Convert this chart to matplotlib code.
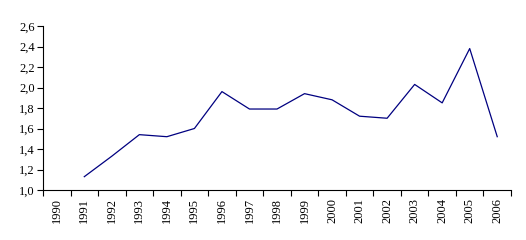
import numpy as np
import matplotlib.pyplot as plt
from matplotlib.ticker import FixedLocator, FuncFormatter

years = [str(y) for y in range(1990, 2007)]
values = [np.nan, 1.13, 1.33, 1.54, 1.52, 1.60, 1.96, 1.79, 1.79,
          1.94, 1.88, 1.72, 1.70, 2.03, 1.85, 2.38, 1.52]
yticks = [1.0, 1.2, 1.4, 1.6, 1.8, 2.0, 2.2, 2.4, 2.6]

plt.rcParams['font.family'] = ['Liberation Serif', 'DejaVu Serif']

fig = plt.figure(figsize=(5.26, 2.4), dpi=100)
ax = fig.add_axes([43/526, 50/240, 468/526, 164/240])

x = np.arange(len(years))
ax.plot(x, values, color='#000080', linewidth=0.9)

ax.set_xlim(-0.5, len(years) - 0.5)
ax.set_ylim(1.0, 2.6)
ax.set_yticks(yticks)
ax.yaxis.set_major_formatter(FuncFormatter(lambda v, p: f'{v:.1f}'.replace('.', ',')))

ax.xaxis.set_major_locator(FixedLocator(np.arange(-0.5, len(years), 1.0)))
ax.xaxis.set_major_formatter(FuncFormatter(lambda v, p: ''))
ax.xaxis.set_minor_locator(FixedLocator(x))
ax.set_xticklabels(years, minor=True, rotation=90)
ax.tick_params(axis='x', which='minor', length=0, pad=6, labelsize=9)
ax.tick_params(axis='x', which='major', length=4, direction='out', width=0.8)
ax.tick_params(axis='y', length=4, direction='out', width=0.8, labelsize=9, pad=2)

for s in ['top', 'right']:
    ax.spines[s].set_visible(False)
for s in ['left', 'bottom']:
    ax.spines[s].set_linewidth(0.8)

fig.savefig('out.png', dpi=100)
